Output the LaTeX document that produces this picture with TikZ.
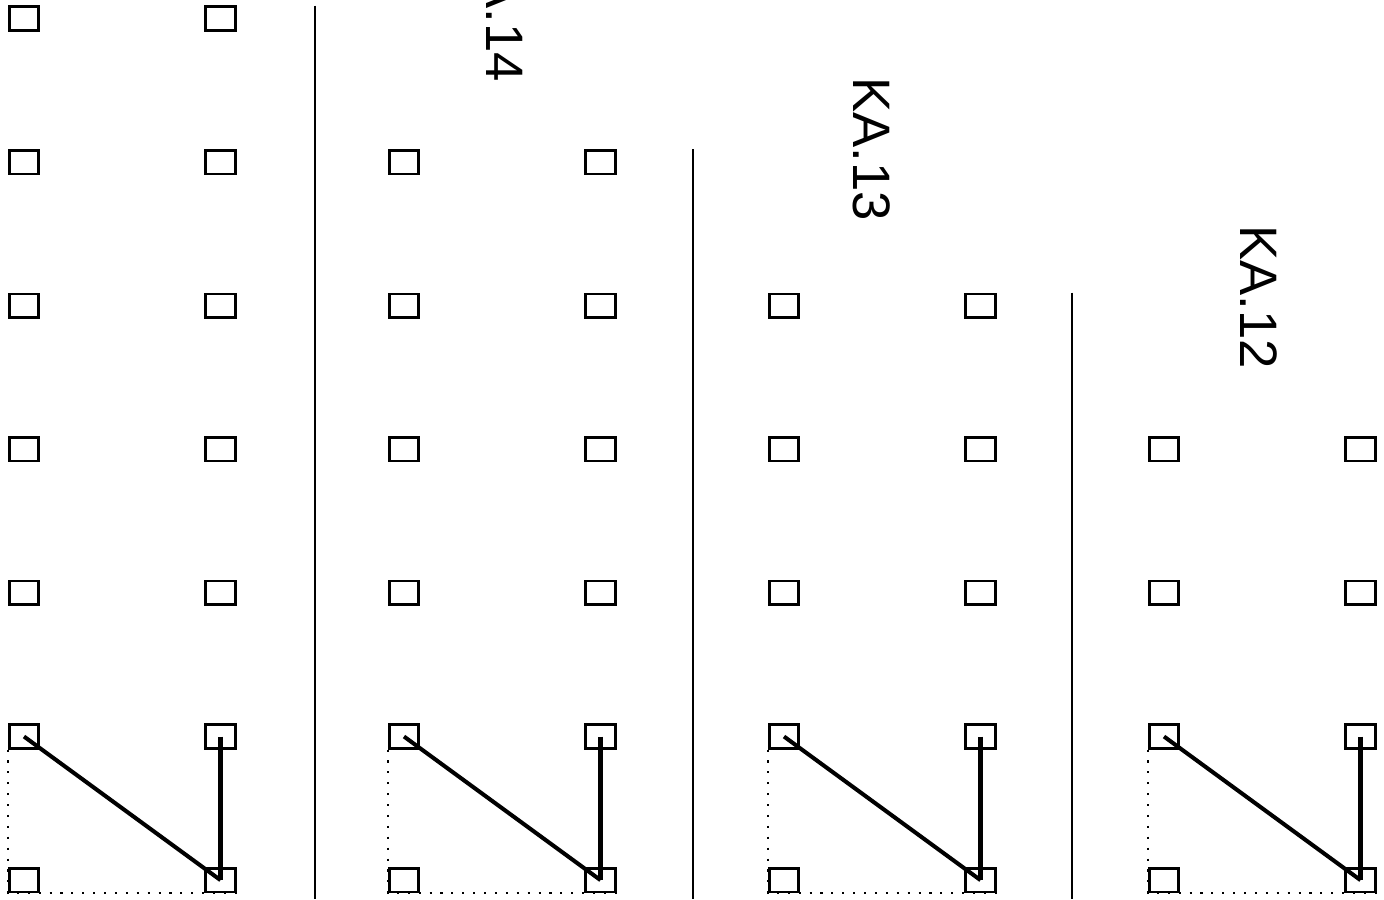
\documentclass[tikz,border=0pt]{standalone}
\usepackage{fontspec}
\setmainfont{Liberation Sans}
\tikzset{
  pad/.style={draw,line width=0.75pt,minimum width=2.95mm,minimum height=2.35mm,inner sep=0pt},
  wire/.style={draw,line width=1.15pt},
  guide/.style={draw,line width=0.6pt,dash pattern=on 0.6pt off 2.5pt},
  divider/.style={draw,line width=0.75pt},
  tagtext/.style={font=\fontsize{15}{18}\selectfont,rotate=-90,inner sep=0pt}
}

\begin{document}
\begin{tikzpicture}[x=0.1mm,y=-0.1mm]
  \useasboundingbox (0,0) rectangle (1384,899);
  \clip (0,0) rectangle (1384,899);
  % pads: column c holds the rows c..6
  \foreach \c in {0,...,3}{
    \foreach \r in {\c,...,6}{
      \node[pad] (L\c-\r) at ({24+380*\c},{18.5+143.6*\r}) {};
      \node[pad] (R\c-\r) at ({220.5+380*\c},{18.5+143.6*\r}) {};
    }
  }
  % dividers between the columns
  \foreach \c/\sx in {0/315,1/693,2/1072}
    \draw[divider] (\sx,{5.5+143.6*\c}) -- (\sx,899);
  % column tags
  \node[tagtext] (tag14) at (505,10) {KA.14};
  \node[tagtext] (tag13) at (872,149) {KA.13};
  \node[tagtext] (tag12) at (1259,297) {KA.12};
  % links at the foot of each column
  \foreach \c in {0,...,3}{
    \draw[wire] (L\c-5.center) -- (R\c-6.center);
    \draw[wire] (R\c-5.center) -- (R\c-6.center);
    \draw[guide] (L\c-5.south west) -- (L\c-6.south west) -- (R\c-6.south east);
  }
\end{tikzpicture}
\end{document}
